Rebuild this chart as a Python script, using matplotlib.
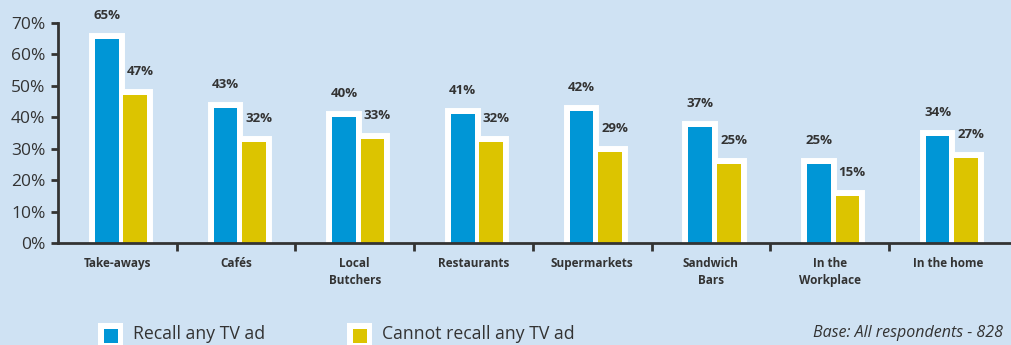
import numpy as np
import matplotlib.pyplot as plt
from matplotlib.patches import Rectangle

# Data
categories = ["Take-aways", "Cafés", "Local\nButchers", "Restaurants",
              "Supermarkets", "Sandwich\nBars", "In the\nWorkplace", "In the home"]
recall = [65, 43, 40, 41, 42, 37, 25, 34]
cannot_recall = [47, 32, 33, 32, 29, 25, 15, 27]
series_names = ["Recall any TV ad", "Cannot recall any TV ad"]
base_note = "Base: All respondents - 828"
y_ticks = [0, 10, 20, 30, 40, 50, 60, 70]

BG = "#cfe2f3"
BLUE = "#0096d6"
YELLOW = "#dcc400"
DARK = "#333333"
FONT = "Open Sans"

W, H = 1012, 345
fig = plt.figure(figsize=(W / 100, H / 100), dpi=100, facecolor=BG)
ax = fig.add_axes([58 / W, (H - 243) / H, (1010 - 58) / W, 242 / H])
ax.set_facecolor(BG)

x = np.arange(len(categories))
bw = 0.2
xb = x - 0.09
xy = x + 0.15

# white frames behind the bars
for pos, vals in [(xb, recall), (xy, cannot_recall)]:
    ax.bar(pos, vals, width=bw, color="white", edgecolor="white",
           linewidth=8.6, joinstyle="miter", zorder=2)
ax.bar(xb, recall, width=bw, color=BLUE, linewidth=0, zorder=3)
ax.bar(xy, cannot_recall, width=bw, color=YELLOW, linewidth=0, zorder=3)

for xi, v in zip(xb, recall):
    ax.annotate(f"{v}%", (xi, v), xytext=(0, 17), textcoords="offset points",
                ha="center", va="center", fontsize=9.5, fontweight="bold",
                color=DARK, family=FONT, annotation_clip=False)
for xi, v in zip(xy, cannot_recall):
    ax.annotate(f"{v}%", (xi, v), xytext=(3.5, 17), textcoords="offset points",
                ha="center", va="center", fontsize=9.5, fontweight="bold",
                color=DARK, family=FONT, annotation_clip=False)

ax.set_xlim(-0.5, 7.52)
ax.set_ylim(0, 77)

for s in ["top", "right"]:
    ax.spines[s].set_visible(False)
for s in ["left", "bottom"]:
    ax.spines[s].set_color(DARK)
    ax.spines[s].set_linewidth(2)
    ax.spines[s].set_zorder(5)
ax.spines["left"].set_bounds(0, 70)

ax.set_yticks(y_ticks)
ax.set_yticklabels([f"{t}%" for t in y_ticks], fontsize=12.5, color=DARK, family=FONT)
ax.tick_params(axis="y", length=5, width=2, color=DARK, pad=4)

ax.set_xticks(x)
ax.set_xticklabels(categories, fontsize=8.5, fontweight="bold", color=DARK,
                   family=FONT, linespacing=1.4)
ax.tick_params(axis="x", which="major", length=0, pad=10)
ax.set_xticks(np.arange(0.5, 7, 1), minor=True)
ax.tick_params(axis="x", which="minor", length=6, width=2, color=DARK)

# legend
for (x0, color, label, tx) in [(98, BLUE, series_names[0], 133),
                                (347, YELLOW, series_names[1], 382)]:
    fig.patches.append(Rectangle((x0 / W, 0), 25 / W, 22 / H, transform=fig.transFigure,
                                 facecolor="white", edgecolor="none"))
    fig.patches.append(Rectangle(((x0 + 6) / W, 2 / H), 14 / W, 14 / H,
                                 transform=fig.transFigure,
                                 facecolor=color, edgecolor="none"))
    fig.text(tx / W, (H - 334) / H, label, fontsize=12.7, color=DARK, family=FONT,
             ha="left", va="center")

fig.text(1003 / W, (H - 333) / H, base_note, fontsize=11.5, style="italic",
         color=DARK, family=FONT, ha="right", va="center")

fig.savefig("out.png", dpi=100, facecolor=BG)
